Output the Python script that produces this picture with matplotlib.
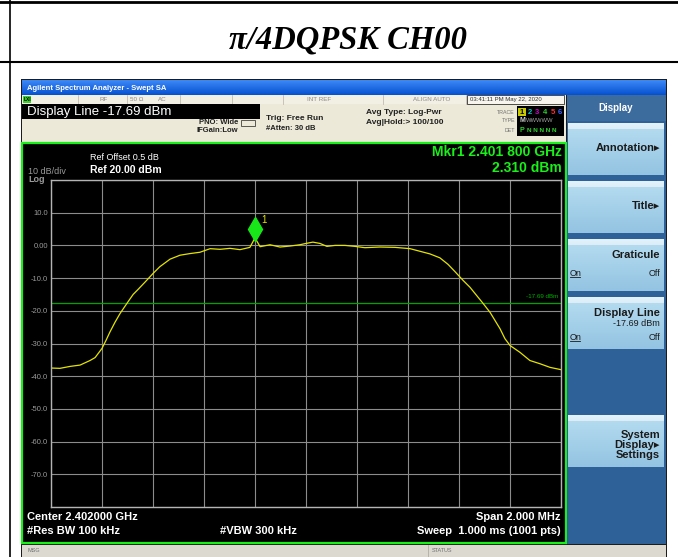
import matplotlib.pyplot as plt
from matplotlib.patches import Rectangle
from matplotlib.colors import LinearSegmentedColormap
from matplotlib.transforms import offset_copy
import numpy as np

# trace
freq_mhz = [2401.000, 2401.035, 2401.075, 2401.114, 2401.153, 2401.173, 2401.200,
            2401.216, 2401.231, 2401.251, 2401.271, 2401.298, 2401.322, 2401.341,
            2401.369, 2401.400, 2401.427, 2401.467, 2401.506, 2401.545, 2401.584,
            2401.624, 2401.663, 2401.702, 2401.741, 2401.780, 2401.800, 2401.820,
            2401.859, 2401.898, 2401.937, 2401.976, 2402.000, 2402.027, 2402.055,
            2402.082, 2402.114, 2402.153, 2402.192, 2402.231, 2402.290, 2402.349,
            2402.408, 2402.447, 2402.486, 2402.525, 2402.557, 2402.584, 2402.616,
            2402.643, 2402.694, 2402.722, 2402.761, 2402.780, 2402.800, 2402.839,
            2402.878, 2402.918, 2402.957, 2403.000]
level_dbm = [-37.5, -37.6, -37.0, -36.6, -35.2, -34.3, -31.5,
             -29.0, -26.5, -23.5, -20.8, -17.7, -15.0, -13.5,
             -11.2, -8.6, -6.5, -4.2, -3.0, -2.5, -2.1,
             -1.0, -1.2, -0.9, -1.3, -0.6, 2.3, -0.4,
             0.2, -0.5, -0.2, 0.2, 0.6, 1.0, 0.6,
             -0.3, 0.0, 0.0, -0.3, -0.7, -0.5, -0.6,
             -1.0, -1.8, -2.6, -3.8, -5.8, -8.0, -10.7,
             -12.8, -17.7, -20.5, -25.5, -28.5, -30.6, -32.7,
             -35.2, -36.2, -37.3, -38.0]

marker_freq = 2401.800
marker_level = 2.31
display_line = -17.69

x_ticks = [2401.0, 2401.2, 2401.4, 2401.6, 2401.8, 2402.0,
           2402.2, 2402.4, 2402.6, 2402.8, 2403.0]
y_ticks = [20, 10, 0, -10, -20, -30, -40, -50, -60, -70, -80]
y_tick_labels = ['', '10.0', '0.00', '-10.0', '-20.0', '-30.0', '-40.0',
                 '-50.0', '-60.0', '-70.0', '']

softkeys = ['Annotation\u25b8', 'Title\u25b8', 'Graticule', 'Display Line', '',
            'System\nDisplay\u25b8\nSettings']
softkey_tops = [123, 181, 239, 297, 355, 415]

SANS = ['Liberation Sans', 'DejaVu Sans']

W, H = 678, 557
fig = plt.figure(figsize=(W / 100, H / 100), dpi=100)
bg = fig.add_axes([0, 0, 1, 1])
bg.axis('off')


def box(x0, y0, x1, y1, color, z=1, ec='none', lw=0):
    bg.add_patch(Rectangle((x0, y0), x1 - x0, y1 - y0, facecolor=color,
                           edgecolor=ec, lw=lw, zorder=z))


def grad(x0, y0, x1, y1, c_top, c_bot, z=1):
    cm = LinearSegmentedColormap.from_list('g', [c_top, c_bot])
    bg.imshow(np.linspace(0, 1, 50).reshape(-1, 1), cmap=cm, aspect='auto',
              extent=(x0, x1, y1, y0), zorder=z, interpolation='bilinear')


def txt(x, y, s, size, color='black', ha='left', weight='normal', **kw):
    bg.text(x, y, s, fontsize=size, color=color, ha=ha, va='center',
            fontweight=weight, family=SANS, zorder=10, **kw)


# table around the screenshot
bg.plot([0, W], [2, 2], color='black', lw=2)
bg.plot([0, W], [62, 62], color='black', lw=1.5)
bg.plot([10, 10], [0, H], color='black', lw=1.2)
bg.text(348, 40, '\u03c0/4DQPSK CH00', fontsize=23.5, fontweight='bold',
        style='italic', family=['Liberation Serif', 'DejaVu Serif'],
        ha='center', va='center')

# window frame and title bar
box(21, 79, 667, H, '#1c1c1c')
grad(22, 80, 666, 95, '#3d8af7', '#0650d0', z=2)
txt(27, 88, 'Agilent Spectrum Analyzer - Swept SA', 5.5, 'white', weight='bold')

# status row
box(22, 95, 566, 143, '#ece9d8', z=2)
box(22, 95, 566, 104, '#f2efe4', z=2)
for sx in [78, 127, 180, 232, 283, 383, 466]:
    bg.plot([sx, sx], [95, 104], color='#c0bcb0', lw=0.6, zorder=3)
box(23, 96, 31, 103, '#3ad12a', z=3)
txt(24, 99.5, 'LXI', 3.5, 'black', weight='bold')
txt(100, 99.5, 'RF', 4.5, '#8a8a8a')
txt(130, 99.5, '50 \u03a9', 4.5, '#8a8a8a')
txt(158, 99.5, 'AC', 4.5, '#8a8a8a')
txt(331, 99.5, 'INT REF', 4.5, '#8a8a8a', ha='right')
txt(450, 99.5, 'ALIGN AUTO', 4.5, '#8a8a8a', ha='right')
box(467, 95, 564, 104, '#f7f5ee', z=3, ec='#303030', lw=0.6)
txt(470, 99.5, '03:41:11 PM May 22, 2020', 4.3, '#303030')

box(22, 104, 260, 119, 'black', z=3)
txt(27, 111.5, 'Display Line -17.69 dBm', 9.5, 'white')
txt(238, 123, 'PNO: Wide', 5.5, '#202020', ha='right', weight='bold')
txt(238, 130.5, 'IFGain:Low', 5.5, '#202020', ha='right', weight='bold')
bg.add_patch(Rectangle((241, 120), 14, 6, facecolor='none', edgecolor='#404040',
                       lw=0.6, zorder=4))
txt(266, 119, 'Trig: Free Run', 6, '#202020', weight='bold')
txt(266, 128, '#Atten: 30 dB', 5.5, '#202020', weight='bold')
txt(366, 112, 'Avg Type: Log-Pwr', 6, '#202020', weight='bold')
txt(366, 122, 'Avg|Hold:> 100/100', 6, '#202020', weight='bold')
txt(515, 112, 'TRACE', 3.8, '#707070', ha='right')
txt(515, 121, 'TYPE', 3.8, '#707070', ha='right')
txt(515, 130, 'DET', 3.8, '#707070', ha='right')
box(517, 106, 564, 136, 'black', z=3)
box(518, 107.5, 526, 116, '#c9c900', z=4)
for i, c in enumerate(['black', '#00d0d0', '#d000d0', '#30d030', '#ff3030', '#4060ff']):
    txt(520 + i * 7.6, 112, str(i + 1), 5.5, c, weight='bold')
txt(519, 121, 'M', 5, '#d0d0d0', weight='bold')
txt(526, 121, 'WWWWW', 4.2, '#a0a0a0')
txt(519, 130, 'P', 5, '#30d030', weight='bold')
txt(527, 130, 'N N N N N', 4.6, '#30d030', weight='bold')

# screen
box(22, 143, 566, 543, 'black', z=2, ec='#19f019', lw=1.6)
txt(90, 158, 'Ref Offset 0.5 dB', 6.5, 'white')
txt(90, 170, 'Ref 20.00 dBm', 7.5, 'white', weight='bold')
txt(28, 171, '10 dB/div', 6.5, '#9a9a9a')
txt(28, 180, 'Log', 6.5, '#9a9a9a', weight='bold')
txt(562, 152, 'Mkr1 2.401 800 GHz', 10, '#19f019', ha='right', weight='bold')
txt(562, 168, '2.310 dBm', 10, '#19f019', ha='right', weight='bold')
txt(27, 517, 'Center 2.402000 GHz', 8, 'white', weight='bold')
txt(27, 531, '#Res BW 100 kHz', 8, 'white', weight='bold')
txt(220, 531, '#VBW 300 kHz', 8, 'white', weight='bold')
txt(561, 517, 'Span 2.000 MHz', 8, 'white', ha='right', weight='bold')
txt(561, 531, 'Sweep  1.000 ms (1001 pts)', 8, 'white', ha='right', weight='bold')

# message bar
box(22, 545, 666, H, '#dcd9d0', z=2)
bg.plot([428, 428], [545, H], color='#b0ada5', lw=0.6, zorder=3)
txt(27, 551, 'MSG', 4, '#707070')
txt(432, 551, 'STATUS', 4, '#707070')

# softkey panel
box(567, 95, 666, 544, '#2f6199', z=2)
box(567, 95, 666, 121, '#3c6b9e', z=3)
txt(616, 108, 'Display', 7, 'white', ha='center', weight='bold')
for label, top in zip(softkeys, softkey_tops):
    if not label:
        continue
    grad(568, top, 664, top + 52, '#e2f2fb', '#9ccbe6', z=3)
    grad(568, top + 6, 664, top + 52, '#b3daef', '#93c4e2', z=3)
    if label.startswith('System'):
        txt(660, top + 30, label, 8, '#1a1a1a', ha='right', weight='bold',
            linespacing=1.0, multialignment='right')
    elif label in ('Graticule', 'Display Line'):
        txt(660, top + 16, label, 8, '#1a1a1a', ha='right', weight='bold')
    else:
        txt(660, top + 25, label, 8, '#1a1a1a', ha='right', weight='bold')
txt(660, softkey_tops[3] + 26, '-17.69 dBm', 6.5, '#1a1a1a', ha='right')
for top in (softkey_tops[2], softkey_tops[3]):
    yy = top + 34 if top == softkey_tops[2] else top + 40
    txt(570, yy, 'On', 6.5, '#1a1a1a')
    bg.plot([570, 580], [yy + 4, yy + 4], color='#1a1a1a', lw=0.6, zorder=10)
    txt(660, yy, 'Off', 6.5, '#1a1a1a', ha='right')

bg.set_xlim(0, W)
bg.set_ylim(H, 0)

# graticule
ax = fig.add_axes([51 / W, 1 - 507 / H, 510 / W, 327 / H])
ax.set_facecolor('black')
ax.set_xlim(x_ticks[0], x_ticks[-1])
ax.set_ylim(y_ticks[-1], y_ticks[0])
ax.set_xticks(x_ticks)
ax.set_yticks(y_ticks)
ax.set_xticklabels([])
ax.set_yticklabels(y_tick_labels, family=SANS, fontsize=5.5, color='#9a9a9a')
ax.tick_params(length=0, pad=2)
ax.grid(color='#8c8c8c', lw=0.8)
for sp in ax.spines.values():
    sp.set_color('#b4b4b4')
    sp.set_linewidth(1.0)

ax.axhline(display_line, color='#00a400', lw=0.9)
ax.text(0.995, display_line + 1.2, '-17.69 dBm', transform=ax.get_yaxis_transform(),
        ha='right', va='bottom', fontsize=4.5, color='#00b000', family=SANS)
ax.plot(freq_mhz, level_dbm, color='#e4e400', lw=0.9)

mk = offset_copy(ax.transData, fig=fig, y=9, units='dots')
ax.plot([marker_freq], [marker_level], marker='d', ms=12, color='#19e619',
        mec='#19e619', transform=mk)
ax.text(marker_freq, marker_level, '1', transform=offset_copy(ax.transData, fig=fig,
        x=6, y=15, units='dots'), fontsize=7, color='#e4e400', family=SANS)

fig.savefig('out.png', dpi=100)
